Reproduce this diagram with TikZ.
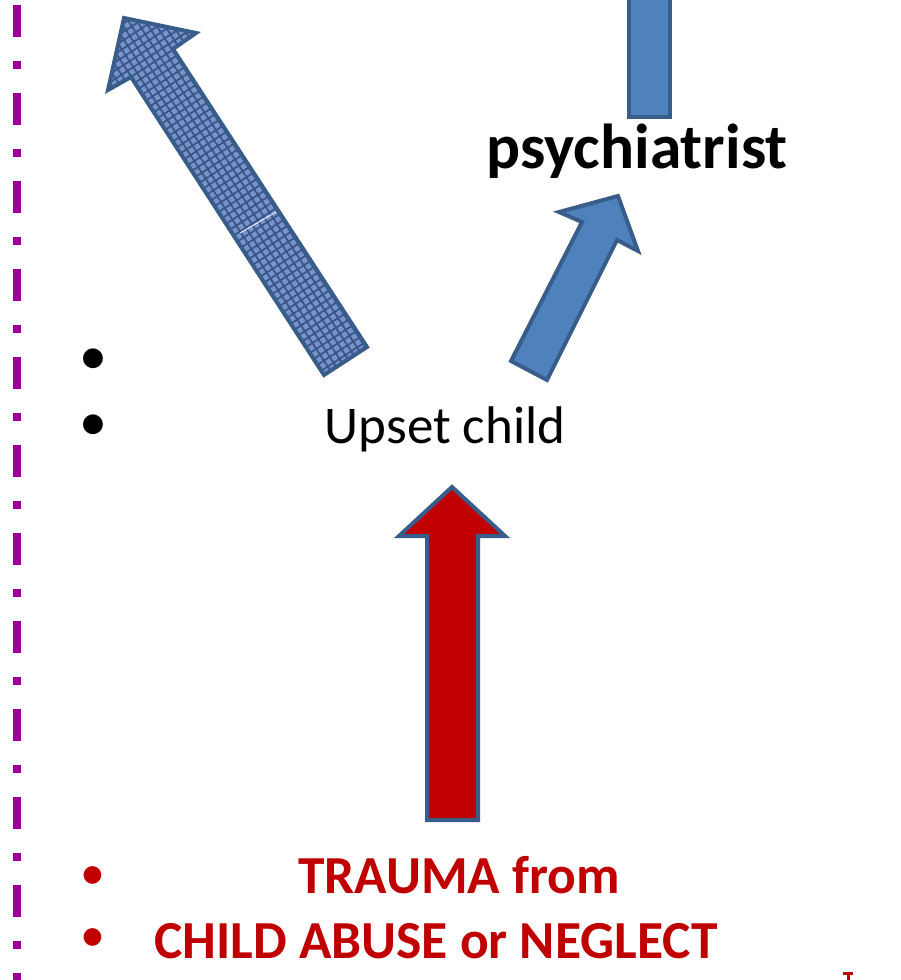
\documentclass[tikz,border=0pt]{standalone}
\usepackage{fontspec}
\setmainfont{Carlito}
\usetikzlibrary{patterns.meta}
\definecolor{officeblue}{RGB}{79,129,189}
\definecolor{edgeblue}{RGB}{56,93,138}
\definecolor{denim}{RGB}{118,148,200}
\definecolor{weave}{RGB}{58,84,138}
\definecolor{darkred}{RGB}{192,0,0}
\definecolor{plum}{RGB}{153,0,153}
\tikzset{%
    blockarrow/.style={draw=edgeblue, line width=4pt, line join=miter},
    caption/.style={inner sep=0pt, anchor=base},
    bulletmark/.style={inner sep=0pt, anchor=center, font=\fontsize{56}{60}\selectfont}
}

\begin{document}
\begin{tikzpicture}[x=1pt,y=-1pt]
    \useasboundingbox (0,0) rectangle (901,980);
%-----------------------------------------------
    \draw[plum, line width=8pt, dash pattern=on 32pt off 24pt on 8pt off 24pt] (17,5)--(17,990);
%-----------------------------------------------
    \draw[blockarrow, preaction={fill=denim}, pattern={Hatch[angle=33,distance=7pt,line width=1.8pt]}, pattern color=weave]
        (124,18)--(196,33)--(173,49)--(367,347)--(324,375)--(131,77)--(108,90)--cycle;
    \draw[white, line width=0.8pt] (240,233)--(276,212);
    \draw[blockarrow, fill=officeblue] (618,196)--(638,251)--(617,240)--(547,380)--(511,361)--(582,222)--(559,212)--cycle;
    \draw[blockarrow, fill=officeblue] (629,-10) rectangle (670,117);
    \draw[blockarrow, fill=darkred] (452,487)--(505,536)--(478,536)--(478,820)--(427,820)--(427,536)--(399,536)--cycle;
%-----------------------------------------------
    \node[caption, font=\fontsize{63.5}{72}\selectfont\bfseries] (psych) at (637,168) {psychiatrist};
    \node[caption, font=\fontsize{53}{64}\selectfont] (upset) at (445,443) {Upset child};
    \node[caption, font=\fontsize{53.5}{64}\selectfont\bfseries, text=darkred] (trauma) at (459,893) {TRAUMA from};
    \node[caption, font=\fontsize{53.5}{64}\selectfont\bfseries, text=darkred] (abuse) at (436,958) {CHILD ABUSE or NEGLECT};
%-----------------------------------------------
    \node[bulletmark] (dotA) at (93,362) {•};
    \node[bulletmark] (dotB) at (93,428) {•};
    \node[bulletmark, font=\fontsize{50}{56}\selectfont, text=darkred] (dotC) at (93,878) {•};
    \node[bulletmark, font=\fontsize{50}{56}\selectfont, text=darkred] (dotD) at (93,940) {•};
    \fill[darkred] (843,972) rectangle (853,975);
    \fill[darkred] (846.5,975) rectangle (849.5,982);
\end{tikzpicture}
\end{document}
